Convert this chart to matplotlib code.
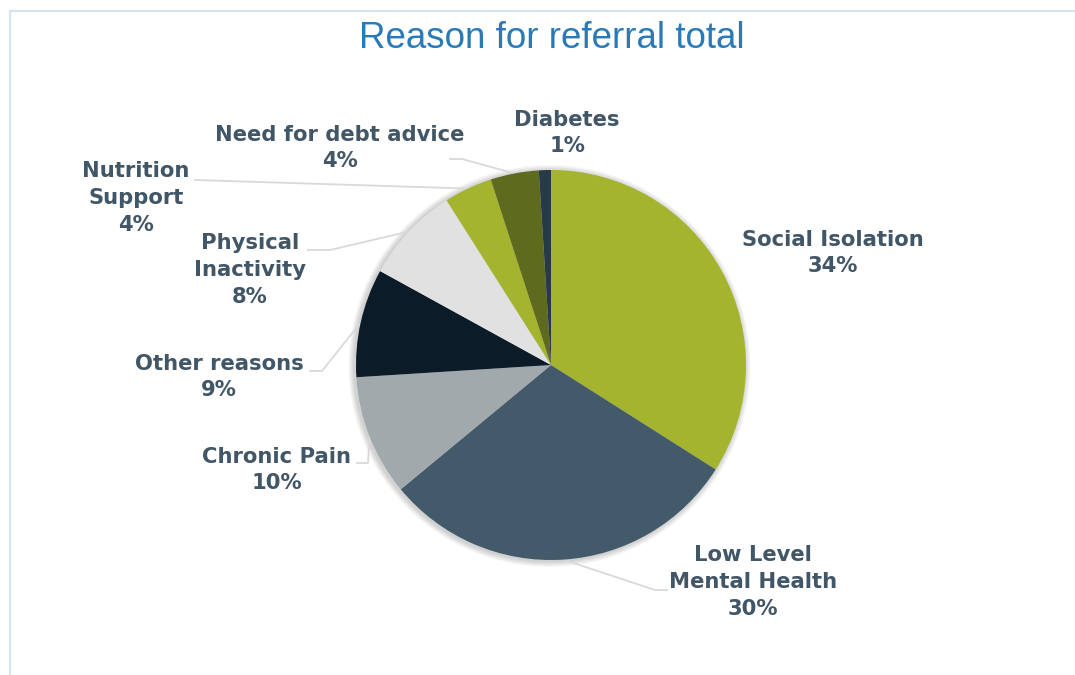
import matplotlib.pyplot as plt
from matplotlib.patches import Circle
import numpy as np

reasons = ['Social Isolation', 'Low Level\nMental Health', 'Chronic Pain',
           'Other reasons', 'Physical\nInactivity', 'Nutrition\nSupport',
           'Need for debt advice', 'Diabetes']
shares = [34, 30, 10, 9, 8, 4, 4, 1]
colors = ['#a4b42f', '#435a6a', '#a2a9ad', '#0b1b28',
          '#e1e1e1', '#a4b42f', '#5e6b1e', '#27394a']

W, H = 1075, 675
cx, cy, R = 551, H - 365, 195
txt_col = '#415667'
line_col = '#d9d9d9'

fig = plt.figure(figsize=(W / 100, H / 100), dpi=100)
ax = fig.add_axes([0, 0, 1, 1])

# outer frame (left and top edges visible)
ax.plot([9.5, 9.5, W + 5], [-5, H - 11, H - 11], color='#d2e5f6', lw=1.5)

ax.text(552, H - 38, 'Reason for referral total', ha='center', va='center',
        fontsize=26.5, color='#2a7ab8', family='Liberation Sans')

# soft shadow round the pie
for k in range(1, 7):
    ax.add_patch(Circle((cx - 1.5, cy - 1), R + k, color='#000000',
                        alpha=0.03, lw=0, zorder=1))

wedges, _ = ax.pie(shares, colors=colors, startangle=90, counterclock=False,
                   center=(cx, cy), radius=R, frame=True,
                   wedgeprops=dict(linewidth=0, zorder=2))
ax.set_xlim(0, W)
ax.set_ylim(0, H)
ax.set_aspect('equal')
ax.axis('off')

# label centre (x, y from top) and leader start / elbow points
label_pos = [(833, 253), (753, 582), (277, 470), (219, 377),
             (250, 270), (136, 198), (340, 148), (567, 133)]
line_starts = [None, (667, 590), (357, 463), (310, 371),
               (308, 250), (195, 180), (450, 159), None]
elbows = [None, (655, 590), (368, 463), (322, 371),
          (330, 250), (195, 180), (462, 159), None]

cum = np.cumsum([0] + shares)
total = sum(shares)
for i, name in enumerate(reasons):
    lx, ly = label_pos[i]
    ax.text(lx, H - ly, f'{name}\n{shares[i]}%', ha='center', va='center',
            fontsize=15.2, fontweight='bold', color=txt_col,
            family='DejaVu Sans', linespacing=1.42, zorder=5)
    if elbows[i] is not None:
        mid = 90 - 360 * (cum[i] + shares[i] / 2) / total
        px = cx + R * np.cos(np.radians(mid))
        py = cy + R * np.sin(np.radians(mid))
        sx, sy = line_starts[i]
        ex, ey = elbows[i]
        ax.plot([sx, ex, px], [H - sy, H - ey, py], color=line_col,
                lw=1.3, zorder=1.5)

fig.savefig('out.png', dpi=100)
